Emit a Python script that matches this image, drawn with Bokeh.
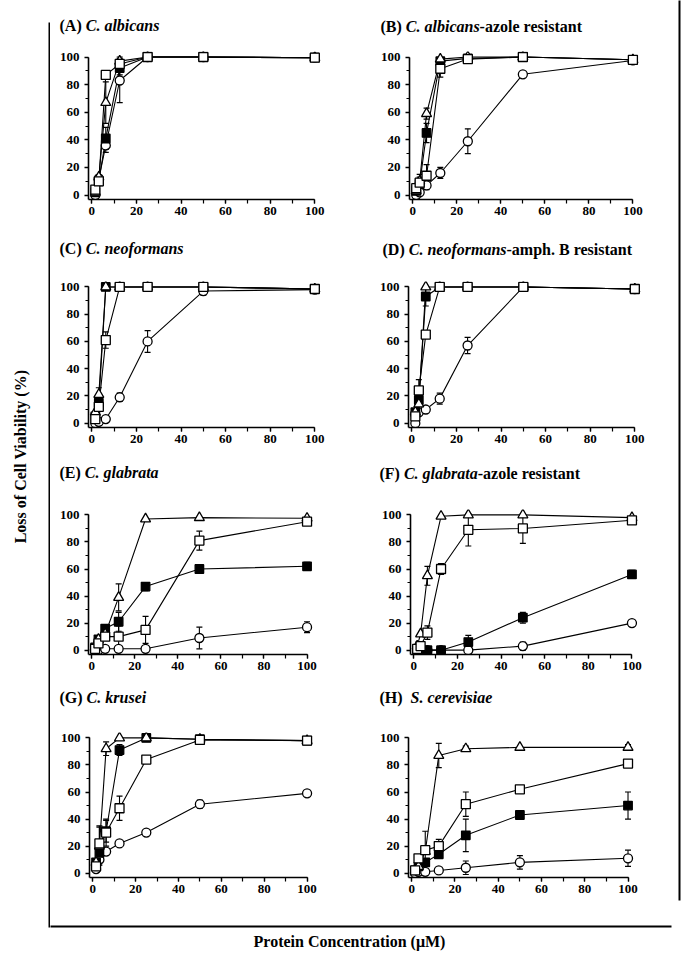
import math
from bokeh.plotting import figure
from bokeh.models import Range1d, LinearAxis, SingleIntervalTicker, FixedTicker, Label
from bokeh.layouts import row, column
from bokeh.embed import file_html
from bokeh.resources import INLINE

# ---------------- data ----------------
conc = [1.5625, 3.125, 6.25, 12.5, 25, 50, 100]

A_circle = [0, 12, 36, 83, 100, 100, 99.5]
A_circle_err = [0, 0, 5, 16, 0, 0, 0]
A_fsquare = [2, 10, 41, 92, 100, 100, 99.5]
A_fsquare_err = [0, 0, 8, 5, 0, 0, 0]
A_triangle = [2, 13, 67, 97, 100, 100, 99.5]
A_triangle_err = [0, 0, 15, 3, 0, 0, 0]
A_osquare = [4, 10, 87, 95, 100, 100, 99.5]
A_osquare_err = [0, 3, 0, 3, 0, 0, 0]

B_circle = [0, 2, 7, 16, 39, 87.5, 97.5]
B_circle_err = [0, 0, 3, 4, 9, 0, 0]
B_fsquare = [3, 8, 45, 97, 99, 100, 98]
B_fsquare_err = [0, 5, 7, 0, 0, 0, 0]
B_triangle = [3, 10, 59, 98.5, 100, 100, 98]
B_triangle_err = [0, 5, 4, 0, 0, 0, 0]
B_osquare = [5, 9, 14, 91.5, 98.5, 100, 98]
B_osquare_err = [0, 3, 8, 6, 0, 0, 0]

C_circle = [0, 1, 3, 19, 60, 97, 98]
C_circle_err = [0, 0, 0, 3, 8, 3, 0]
C_fsquare = [5, 15, 100, 100, 100, 100, 98.5]
C_fsquare_err = [0, 0, 0, 0, 0, 0, 0]
C_triangle = [8, 21, 100, 100, 100, 100, 98.5]
C_triangle_err = [0, 5, 0, 0, 0, 0, 0]
C_osquare = [3, 12, 61, 100, 100, 100, 98.5]
C_osquare_err = [0, 0, 6, 0, 0, 0, 0]

D_circle = [0, 8, 10, 18, 57, 100, 98.5]
D_circle_err = [0, 0, 0, 4, 6, 0, 0]
D_fsquare = [8, 17, 93, 100, 100, 100, 98.5]
D_fsquare_err = [0, 0, 7, 0, 0, 0, 0]
D_triangle = [8, 14, 100, 100, 100, 100, 98.5]
D_triangle_err = [0, 0, 0, 0, 0, 0, 0]
D_osquare = [5, 24, 65, 100, 100, 100, 98.5]
D_osquare_err = [0, 8, 0, 0, 0, 0, 0]

E_circle = [0, 0, 1, 1, 1, 9, 17]
E_circle_err = [0, 0, 0, 0, 0, 8, 4]
E_fsquare = [2, 8, 16, 21, 47, 60, 62]
E_fsquare_err = [0, 0, 0, 7, 3, 3, 3]
E_triangle = [2, 8, 12, 39, 97, 98, 97.5]
E_triangle_err = [0, 0, 0, 10, 0, 0, 0]
E_osquare = [1, 5, 10, 10, 15, 81, 95]
E_osquare_err = [0, 3, 0, 8, 10, 7, 0]

F_circle = [0, 0, 0, 0, 0, 3, 20]
F_circle_err = [0, 0, 0, 0, 0, 3, 0]
F_fsquare = [0, 0, 0, 0, 6, 24, 56]
F_fsquare_err = [0, 0, 0, 0, 5, 4, 3]
F_triangle = [3, 12, 55, 99, 100, 100, 98]
F_triangle_err = [0, 0, 7, 0, 0, 0, 0]
F_osquare = [1, 3, 13, 60, 89, 90, 96]
F_osquare_err = [0, 0, 5, 4, 12, 11, 0]

G_circle = [3, 10, 16, 22, 30, 51, 59]
G_circle_err = [0, 0, 0, 0, 0, 3, 0]
G_fsquare = [8, 15, 31, 91, 100, 99, 98]
G_fsquare_err = [0, 0, 8, 4, 0, 0, 0]
G_triangle = [8, 20, 92, 100, 100, 99, 98]
G_triangle_err = [0, 14, 5, 0, 0, 0, 0]
G_osquare = [5, 22, 30, 48, 84, 98.5, 98]
G_osquare_err = [0, 13, 10, 9, 0, 0, 0]

H_circle = [0, 1, 1, 2, 4, 8, 11]
H_circle_err = [0, 0, 0, 0, 5, 5, 6]
H_fsquare = [2, 5, 8, 14, 28, 43, 50]
H_fsquare_err = [0, 0, 0, 0, 12, 0, 10]
H_triangle = [2, 5, 16, 87, 92, 93, 93]
H_triangle_err = [0, 0, 15, 9, 2, 0, 2]
H_osquare = [2, 11, 17, 20, 51, 62, 81]
H_osquare_err = [0, 0, 0, 5, 9, 2, 0]

panel_titles = {
    "A": ("(A) ", "C. albicans", ""),
    "B": ("(B) ", "C. albicans", "-azole resistant"),
    "C": ("(C) ", "C. neoformans", ""),
    "D": ("(D) ", "C. neoformans", "-amph. B resistant"),
    "E": ("(E) ", "C. glabrata", ""),
    "F": ("(F) ", "C. glabrata", "-azole resistant"),
    "G": ("(G) ", "C. krusei", ""),
    "H": ("(H)  ", "S.  cerevisiae", ""),
}
y_label_text = "Loss of Cell Viability (%)"
x_label_text = "Protein Concentration (\u03bcM)"

# ---------------- style / layout ----------------
FONT = "Liberation Serif"
TITLE_PX = 16
BOLD_W = {'(': .333, ')': .333, ' ': .25, 'A': .722, 'B': .667, 'C': .722, 'D': .722,
          'E': .667, 'F': .611, 'G': .778, 'H': .778, '-': .333, 'a': .5, 'z': .444,
          'o': .5, 'l': .278, 'e': .444, 'r': .444, 's': .389, 'i': .278, 't': .333,
          'n': .556, 'm': .833, 'p': .556, 'h': .556, '.': .25}
ITAL_W = {'C': .667, 'S': .556, '.': .25, ' ': .25, 'a': .5, 'l': .278, 'b': .5, 'i': .278,
          'c': .444, 'n': .556, 's': .389, 'e': .444, 'o': .5, 'f': .333, 'r': .389,
          'm': .778, 'g': .5, 't': .278, 'k': .5, 'u': .556, 'v': .444}


def tw(s, table):
    return sum(table.get(ch, .5) for ch in s) * TITLE_PX


PXL, PXR, PYB, PYT = 1.5, 3.0, 3.2, 4.0
PAGE_H = 962
MAIN_X, MAIN_W = 51, 627
COLS = [(51, 309), (360, 318)]
# (title strip start, panel start, panel end)
ROWS = [(0, 40, 232), (232, 268, 460), (460, 492, 686), (686, 716, 912)]

# page geometry per panel: x0, x100, y100, y0, title_x, title_y
GEOM = {
    "A": (92, 315, 57, 195, 60, 25),
    "B": (413, 633, 57, 197, 381, 26),
    "C": (92, 315, 286, 422, 60, 248),
    "D": (412, 635, 286, 424, 383, 249),
    "E": (92, 307, 512, 650, 60, 472),
    "F": (414, 632, 515, 655, 380, 473),
    "G": (93, 307, 736, 872, 60, 697),
    "H": (412, 628, 738, 876, 380, 697),
}

SERIES = {
    "A": [(A_circle, A_circle_err), (A_fsquare, A_fsquare_err), (A_triangle, A_triangle_err), (A_osquare, A_osquare_err)],
    "B": [(B_circle, B_circle_err), (B_fsquare, B_fsquare_err), (B_triangle, B_triangle_err), (B_osquare, B_osquare_err)],
    "C": [(C_circle, C_circle_err), (C_fsquare, C_fsquare_err), (C_triangle, C_triangle_err), (C_osquare, C_osquare_err)],
    "D": [(D_circle, D_circle_err), (D_fsquare, D_fsquare_err), (D_triangle, D_triangle_err), (D_osquare, D_osquare_err)],
    "E": [(E_circle, E_circle_err), (E_fsquare, E_fsquare_err), (E_triangle, E_triangle_err), (E_osquare, E_osquare_err)],
    "F": [(F_circle, F_circle_err), (F_fsquare, F_fsquare_err), (F_triangle, F_triangle_err), (F_osquare, F_osquare_err)],
    "G": [(G_circle, G_circle_err), (G_fsquare, G_fsquare_err), (G_triangle, G_triangle_err), (G_osquare, G_osquare_err)],
    "H": [(H_circle, H_circle_err), (H_fsquare, H_fsquare_err), (H_triangle, H_triangle_err), (H_osquare, H_osquare_err)],
}
MARKERS = [("circle", 9, "white"), ("square", 8.5, "black"), ("triangle", 10, "white"), ("square", 9, "white")]


def make_axis(kind):
    lo = -PXL if kind == "x" else -PYB
    return LinearAxis(bounds=(lo, 100),
                      ticker=SingleIntervalTicker(interval=20, num_minor_ticks=2),
                      axis_line_width=1.6, axis_line_color="black",
                      major_tick_out=4, major_tick_in=0, minor_tick_out=4 if kind == "x" else 3,
                      minor_tick_in=0, major_tick_line_width=1.3, minor_tick_line_width=1.2,
                      major_label_text_font=FONT, major_label_text_font_style="bold",
                      major_label_text_font_size="13px", major_label_text_color="black",
                      major_label_standoff=3 if kind == "x" else 5)


def line_axis(lo, hi):
    return LinearAxis(ticker=FixedTicker(ticks=[]), bounds=(lo, hi),
                      axis_line_width=2, axis_line_color="black",
                      major_tick_out=0, major_tick_in=0, minor_tick_out=0, minor_tick_in=0,
                      major_tick_line_color=None, minor_tick_line_color=None,
                      major_label_standoff=0, major_label_text_color=None)


def bare_fig(width, height, **kw):
    f = figure(width=width, height=height, x_range=Range1d(0, width), y_range=Range1d(0, height),
               x_axis_location=None, y_axis_location=None, title=None,
               output_backend="svg", toolbar_location=None, **kw)
    f.outline_line_color = None
    f.xgrid.grid_line_color = None
    f.ygrid.grid_line_color = None
    return f


def panel(key, ci, ri):
    col_start, col_w = COLS[ci]
    _, row_start, row_end = ROWS[ri]
    row_h = row_end - row_start
    x0, x100, y100, y0, tx, ty = GEOM[key]
    sx = (x100 - x0) / 100.0
    sy = (y0 - y100) / 100.0
    fl = x0 - PXL * sx
    fr = x100 + PXR * sx
    ft = y100 - PYT * sy
    fb = y0 + PYB * sy
    bl = int(round(fl - col_start))
    fw = int(round(fr - fl))
    br = col_w - bl - fw
    bt = int(round(ft - row_start))
    fh = int(round(fb - ft))
    bb = row_h - bt - fh
    p = figure(width=col_w, height=row_h, min_border_left=bl, min_border_right=br,
               min_border_top=bt, min_border_bottom=bb,
               x_range=Range1d(-PXL, 100 + PXR), y_range=Range1d(-PYB, 100 + PYT),
               x_axis_location=None, y_axis_location=None, title=None,
               output_backend="svg", toolbar_location=None)
    p.outline_line_color = None
    p.xgrid.grid_line_color = None
    p.ygrid.grid_line_color = None
    p.add_layout(make_axis("x"), "below")
    p.add_layout(make_axis("y"), "left")

    series = SERIES[key]
    for vals, errs in series:
        p.line(conc, vals, line_color="black", line_width=1.1)
        ex = [c for c, e in zip(conc, errs) if e > 0]
        lo = [v - e for v, e in zip(vals, errs) if e > 0]
        hi = [v + e for v, e in zip(vals, errs) if e > 0]
        if ex:
            p.segment(ex, lo, ex, hi, line_color="black", line_width=1.1)
            p.scatter(ex + ex, lo + hi, marker="dash", size=6, line_color="black", line_width=1.2)
    for (vals, errs), (mk, sz, fill) in zip(series, MARKERS):
        p.scatter(conc, vals, marker=mk, size=sz, fill_color=fill, line_color="black", line_width=1.3)
    return p


def title_strip(ri, pair):
    t0, t1, _ = ROWS[ri]
    h = t1 - t0
    f = bare_fig(MAIN_W, h, min_border_left=0, min_border_right=0, min_border_top=0, min_border_bottom=0)
    for key in pair:
        tx, ty = GEOM[key][4], GEOM[key][5]
        lx = tx - MAIN_X
        ly = t1 - ty
        s1, s2, s3 = panel_titles[key]
        for txt, style, table in [(s1, "bold", BOLD_W), (s2, "bold italic", ITAL_W), (s3, "bold", BOLD_W)]:
            if txt.strip():
                f.add_layout(Label(x=lx, y=ly, x_units="screen", y_units="screen", text=txt,
                                   text_font=FONT, text_font_style=style,
                                   text_font_size=f"{TITLE_PX}px", text_color="black",
                                   text_align="left", text_baseline="middle"))
            lx += tw(txt, table)
    return f


keys = [["A", "B"], ["C", "D"], ["E", "F"], ["G", "H"]]
blocks = []
for ri, pair in enumerate(keys):
    blocks.append(title_strip(ri, pair))
    blocks.append(row(panel(pair[0], 0, ri), panel(pair[1], 1, ri)))

# x label strip (page y 912..962) with the bottom frame line at y=926
xl = bare_fig(MAIN_W, PAGE_H - 912, min_border_left=0, min_border_right=0,
              min_border_top=14, min_border_bottom=0)
xl.x_range = Range1d(0, MAIN_W)
xl.add_layout(line_axis(0, 621), "above")
xl.add_layout(Label(x=350 - MAIN_X, y=PAGE_H - 941, x_units="screen", y_units="screen",
                    text=x_label_text, text_font=FONT, text_font_style="bold",
                    text_font_size="16px", text_color="black",
                    text_align="center", text_baseline="middle"))

# y label strip (page x 0..51) with the left frame line at x=50
yl = bare_fig(50, PAGE_H, min_border_left=0, min_border_right=1, min_border_top=0, min_border_bottom=0)
yl.add_layout(line_axis(PAGE_H - 927, PAGE_H - 22), "right")
yl.add_layout(Label(x=20, y=PAGE_H - 456, x_units="screen", y_units="screen",
                    text=y_label_text, text_font=FONT, text_font_style="bold",
                    text_font_size="16px", text_color="black", angle=math.pi / 2,
                    text_align="center", text_baseline="middle"))

# right frame line strip (page x 678..686)
rl = bare_fig(8, PAGE_H, min_border_left=2, min_border_right=0, min_border_top=0, min_border_bottom=0)
rl.add_layout(line_axis(PAGE_H - 900, PAGE_H), "left")

root = row(yl, column(*blocks, xl), rl)
open("out.html", "w").write(file_html(root, INLINE))
